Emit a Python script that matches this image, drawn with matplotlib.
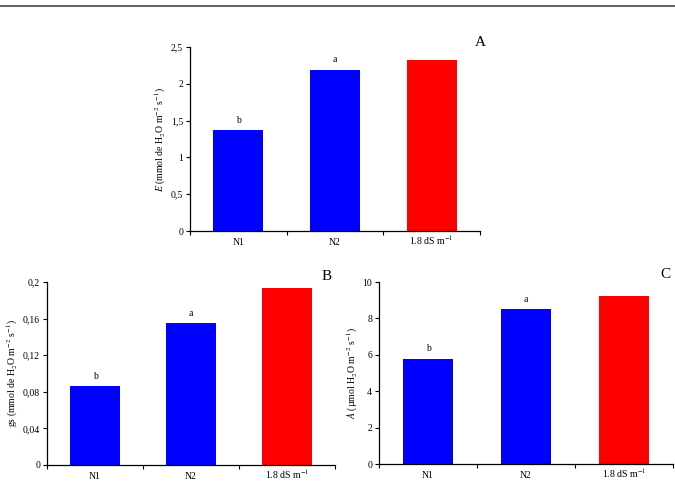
import numpy as np
import matplotlib.pyplot as plt
from matplotlib.lines import Line2D

plt.rcParams['font.family'] = ['Liberation Serif', 'DejaVu Serif']
plt.rcParams['mathtext.fontset'] = 'stix'

# data
categories = ['N1', 'N2', '1.8 dS m$^{-1}$']
colors = ['#0000ff', '#0000ff', '#ff0000']

E_vals = [1.37, 2.19, 2.33]
gs_vals = [0.086, 0.155, 0.193]
A_vals = [5.77, 8.50, 9.22]
letters = ['b', 'a', '']

E_ticks = [0, 0.5, 1, 1.5, 2, 2.5]
gs_ticks = [0, 0.04, 0.08, 0.12, 0.16, 0.2]
A_ticks = [0, 2, 4, 6, 8, 10]
E_ticklabels = ['0', '0,5', '1', '1,5', '2', '2,5']
gs_ticklabels = ['0', '0,04', '0,08', '0,12', '0,16', '0,2']
A_ticklabels = ['0', '2', '4', '6', '8', '10']

fig = plt.figure(figsize=(6.75, 4.82), dpi=100)
fig.add_artist(Line2D([0, 1], [1 - 6 / 482, 1 - 6 / 482], color='#666666', lw=1.5))


def panel(rect, vals, ticks, ticklabels, ylabel, tag, tag_xy):
    ax = fig.add_axes(rect)
    x = np.arange(len(categories))
    ax.bar(x, vals, width=0.52, color=colors, edgecolor='none')
    for xi, v, lt in zip(x, vals, letters):
        if lt:
            ax.annotate(lt, (xi, v), xytext=(0, 4), textcoords='offset points',
                        ha='center', va='bottom', fontsize=7)
    ax.set_xlim(-0.5, 2.5)
    ax.set_ylim(ticks[0], ticks[-1])
    ax.set_yticks(ticks)
    ax.set_yticklabels(ticklabels, fontsize=7)
    ax.set_xticks(x)
    ax.set_xticklabels(categories, fontsize=7, va='baseline')
    ax.set_xticks([-0.5, 0.5, 1.5, 2.5], minor=True)
    ax.tick_params(axis='x', which='major', length=0, pad=10)
    ax.tick_params(axis='x', which='minor', length=3, direction='out', width=0.8)
    ax.tick_params(axis='y', length=3, direction='out', width=0.8, pad=2)
    ax.spines['top'].set_visible(False)
    ax.spines['right'].set_visible(False)
    ax.spines['left'].set_linewidth(0.9)
    ax.spines['bottom'].set_linewidth(0.9)
    ax.set_ylabel(ylabel, fontsize=7, labelpad=2)
    fig.text(tag_xy[0], tag_xy[1], tag, fontsize=11, ha='center', va='center')
    return ax


panel([190 / 675, 1 - 231 / 482, 290 / 675, 184 / 482], E_vals, E_ticks, E_ticklabels,
      '$\\mathit{E}$ (mmol de H$_2$O m$^{-2}$ s$^{-1}$)', 'A', (480 / 675, 1 - 43 / 482))
panel([47 / 675, 1 - 465 / 482, 288 / 675, 183 / 482], gs_vals, gs_ticks, gs_ticklabels,
      'gs (mmol de H$_2$O m$^{-2}$ s$^{-1}$)', 'B', (327 / 675, 1 - 277 / 482))
panel([379 / 675, 1 - 464 / 482, 294 / 675, 182 / 482], A_vals, A_ticks, A_ticklabels,
      '$\\mathit{A}$ (µmol H$_2$O m$^{-2}$ s$^{-1}$)', 'C', (665 / 675, 1 - 275 / 482))

fig.savefig('out.png', dpi=100)
